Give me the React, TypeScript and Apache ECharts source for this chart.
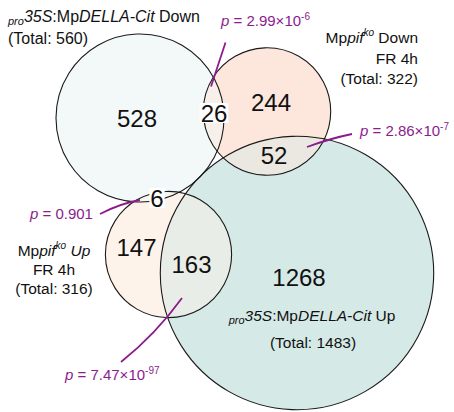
import React, { useEffect, useRef } from 'react';
import * as echarts from 'echarts';

// ---------------- data ----------------
const setTotals = [560, 322, 316, 1483]; // DELLA Down, pif Down, pif Up, DELLA Up
const regionCounts = [528, 26, 244, 52, 6, 147, 163, 1268];
const overlapPairs = [[0, 1], [1, 3], [2, 3], [0, 2]];
const pMantissas = ['2.99', '2.86', '0.901', '7.47'];
const pExponents = ['-6', '-7', '', '-97'];

// ---------------- layout & style ----------------
const W = 454;
const H = 412;
const FONT = "'Liberation Sans', Arial, Helvetica, sans-serif";
const PURPLE = '#8c1c8c';
const INK = '#111111';
const RADIUS_SCALE = 3.55; // px per sqrt(gene count): area-proportional circles
const circleCenters = [[140, 118], [267, 111.5], [168.5, 254.5], [297, 273]];
const circleFills = ['#f3f9f9', '#fde6dc', '#fdf3ea', '#d5e9e6'];
const overlapFills = ['#f7efea', '#ebe7e1', '#e9ede8', '#f8f6f1'];
const regionLabelPos = [[137, 118.5], [214, 113], [271, 102], [274, 155], [157, 198], [136.5, 247], [191.5, 264], [299, 277]];
const regionLabelBg = [false, true, false, false, true, false, false, false];

const tok = (size: number, italic: boolean, lh: number, fill: string, extra: any = {}) => ({
  fontFamily: FONT,
  fontSize: size,
  fontStyle: italic ? 'italic' : 'normal',
  fontWeight: 'normal',
  fill,
  lineHeight: lh,
  ...extra,
});

const blackRich = (size: number) => ({
  n: tok(size, false, 20, INK),
  it: tok(size, true, 20, INK),
  sub: tok(11, true, 20, INK, { verticalAlign: 'bottom' }),
  sup: tok(10, true, 20, INK, { verticalAlign: 'top' }),
});

const purpleRich = {
  n: tok(15, false, 18, PURPLE),
  it: tok(15, true, 18, PURPLE),
  sup: tok(10, false, 18, PURPLE, { verticalAlign: 'top' }),
};

const textEl = (x: number, y: number, text: string, rich: any, align: string) => ({
  type: 'text',
  x,
  y,
  z: 100,
  silent: true,
  style: {
    text,
    rich,
    align,
    textAlign: align,
    verticalAlign: 'middle',
    textVerticalAlign: 'middle',
    fontFamily: FONT,
  },
});

const pText = (k: number) =>
  '{it|p}{n| = ' + pMantissas[k] + (pExponents[k] ? '×10}{sup|' + pExponents[k] + '}' : '}');

const radiusOf = (api: any, total: number) => api.size([Math.sqrt(total) * RADIUS_SCALE, 0])[0];

export default function App() {
  const ref = useRef<HTMLDivElement>(null);
  useEffect(() => {
    if (!ref.current) return;
    const chart = echarts.init(ref.current, null, { renderer: 'svg' });
    const r16 = blackRich(16);
    const r155 = blackRich(15.5);
    const option: any = {
      animation: false,
      backgroundColor: '#ffffff',
      grid: { left: 0, right: 0, top: 0, bottom: 0 },
      xAxis: { type: 'value', min: 0, max: W, show: false },
      yAxis: { type: 'value', min: 0, max: H, inverse: true, show: false },
      series: [
        {
          type: 'custom',
          z: 1,
          silent: true,
          data: setTotals.map((t, i) => [circleCenters[i][0], circleCenters[i][1], t]),
          encode: { x: 0, y: 1 },
          renderItem: (params: any, api: any) => {
            const c = api.coord([api.value(0), api.value(1)]);
            const r = radiusOf(api, api.value(2));
            return {
              type: 'circle',
              shape: { cx: c[0], cy: c[1], r },
              style: { fill: circleFills[params.dataIndex], stroke: 'none' },
            };
          },
        },
        {
          type: 'custom',
          z: 2,
          silent: true,
          data: overlapPairs.map(([i, j]) => [circleCenters[i][0], circleCenters[i][1], i, j]),
          encode: { x: 0, y: 1 },
          renderItem: (params: any, api: any) => {
            const [i, j] = overlapPairs[params.dataIndex];
            const c1 = api.coord(circleCenters[i]);
            const c2 = api.coord(circleCenters[j]);
            const r1 = radiusOf(api, setTotals[i]);
            const r2 = radiusOf(api, setTotals[j]);
            const dx = c2[0] - c1[0];
            const dy = c2[1] - c1[1];
            const d = Math.hypot(dx, dy);
            if (d >= r1 + r2) return { type: 'group', children: [] };
            const th = Math.atan2(dy, dx);
            const a1 = Math.acos((d * d + r1 * r1 - r2 * r2) / (2 * d * r1));
            const a2 = Math.acos((d * d + r2 * r2 - r1 * r1) / (2 * d * r2));
            const pts: number[][] = [];
            const N = 48;
            for (let k = 0; k <= N; k++) {
              const t = th - a1 + (2 * a1 * k) / N;
              pts.push([c1[0] + r1 * Math.cos(t), c1[1] + r1 * Math.sin(t)]);
            }
            const th2 = th + Math.PI;
            for (let k = 0; k <= N; k++) {
              const t = th2 - a2 + (2 * a2 * k) / N;
              pts.push([c2[0] + r2 * Math.cos(t), c2[1] + r2 * Math.sin(t)]);
            }
            return {
              type: 'polygon',
              shape: { points: pts },
              style: { fill: overlapFills[params.dataIndex], stroke: 'none' },
            };
          },
        },
        {
          type: 'custom',
          z: 3,
          silent: true,
          data: setTotals.map((t, i) => [circleCenters[i][0], circleCenters[i][1], t]),
          encode: { x: 0, y: 1 },
          renderItem: (params: any, api: any) => {
            const c = api.coord([api.value(0), api.value(1)]);
            const r = radiusOf(api, api.value(2));
            return {
              type: 'circle',
              shape: { cx: c[0], cy: c[1], r },
              style: { fill: 'none', stroke: '#1a1a1a', lineWidth: 1.1 },
            };
          },
        },
        {
          type: 'custom',
          z: 4,
          silent: true,
          data: regionCounts.map((v, k) => [regionLabelPos[k][0], regionLabelPos[k][1], v]),
          encode: { x: 0, y: 1 },
          renderItem: (params: any, api: any) => {
            const c = api.coord([api.value(0), api.value(1)]);
            const bg = regionLabelBg[params.dataIndex];
            return {
              type: 'text',
              x: c[0],
              y: c[1],
              style: {
                text: String(api.value(2)),
                fontFamily: FONT,
                fontSize: 24,
                fill: INK,
                align: 'center',
                textAlign: 'center',
                verticalAlign: 'middle',
                textVerticalAlign: 'middle',
                lineHeight: 20,
                backgroundColor: bg ? '#ffffff' : undefined,
                padding: bg ? [0, 1] : 0,
              },
            };
          },
        },
      ],
      graphic: {
        elements: [
          // annotation connector lines
          { type: 'line', z: 90, silent: true, shape: { x1: 225.5, y1: 42.5, x2: 211, y2: 86.5 }, style: { stroke: PURPLE, lineWidth: 1.8 } },
          { type: 'bezierCurve', z: 90, silent: true, shape: { x1: 307, y1: 147, cpx1: 330, cpy1: 138.5, x2: 352, y2: 134 }, style: { stroke: PURPLE, lineWidth: 1.8, fill: null } },
          { type: 'bezierCurve', z: 90, silent: true, shape: { x1: 100, y1: 214, cpx1: 120, cpy1: 203.5, x2: 140, y2: 200 }, style: { stroke: PURPLE, lineWidth: 1.8, fill: null } },
          { type: 'bezierCurve', z: 90, silent: true, shape: { x1: 121, y1: 362, cpx1: 156, cpy1: 334, x2: 182, y2: 298 }, style: { stroke: PURPLE, lineWidth: 1.8, fill: null } },
          // p-values
          textEl(221, 20, pText(0), purpleRich, 'left'),
          textEl(360, 130, pText(1), purpleRich, 'left'),
          textEl(30, 213, pText(2), purpleRich, 'left'),
          textEl(65, 374, pText(3), purpleRich, 'left'),
          // set labels
          textEl(8, 16, '{sub|pro}{it|35S}{n|:Mp}{it|DELLA-Cit}{n| Down}', r16, 'left'),
          textEl(8, 38.5, '{n|(Total: ' + setTotals[0] + ')}', r16, 'left'),
          textEl(418, 37.5, '{n|Mp}{it|pif}{sup|ko}{n| Down}', r155, 'right'),
          textEl(418, 58, '{n|FR 4h}', r155, 'right'),
          textEl(418, 78, '{n|(Total: ' + setTotals[1] + ')}', r155, 'right'),
          textEl(54, 250.5, '{n|Mp}{it|pif}{sup|ko}{it| Up}', r155, 'center'),
          textEl(54, 269, '{n|FR 4h}', r155, 'center'),
          textEl(54, 288.5, '{n|(Total: ' + setTotals[2] + ')}', r155, 'center'),
          textEl(312, 315, '{sub|pro}{it|35S}{n|:Mp}{it|DELLA-Cit}{n| Up}', r155, 'center'),
          textEl(313, 342, '{n|(Total: ' + setTotals[3] + ')}', r155, 'center'),
        ],
      },
    };
    chart.setOption(option);
    return () => chart.dispose();
  }, []);
  return (
    <div
      ref={ref}
      style={{ position: 'absolute', left: 0, top: 0, width: W, height: H, background: '#fff' }}
    />
  );
}
